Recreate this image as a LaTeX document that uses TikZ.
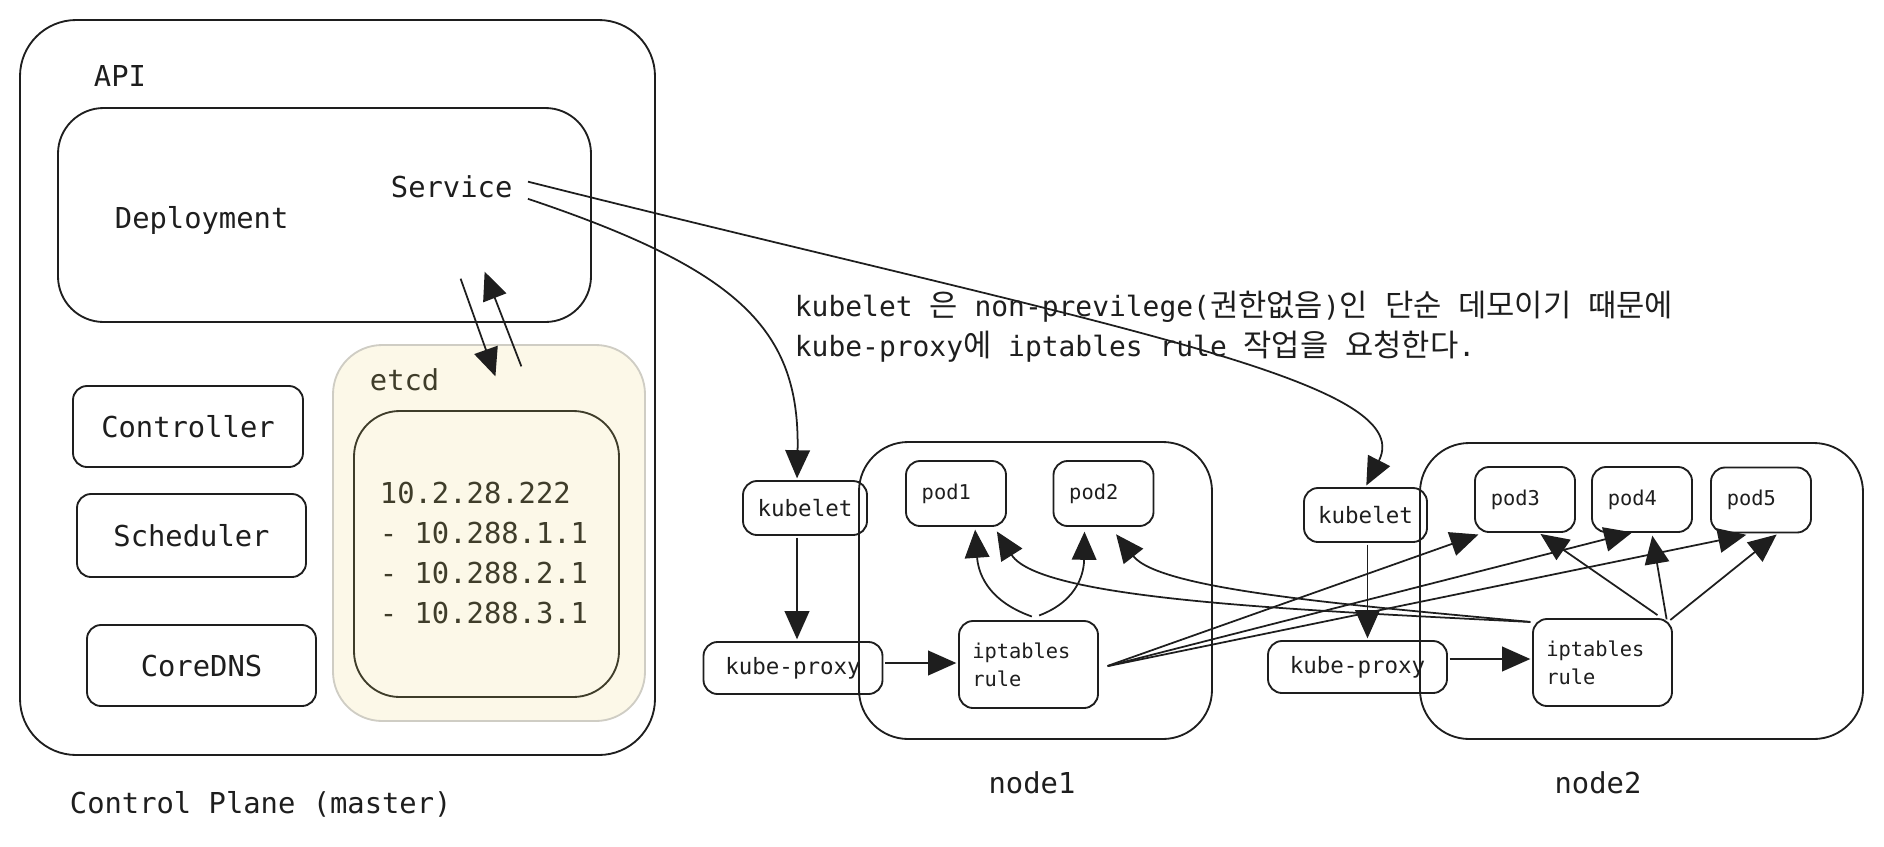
\documentclass[tikz,border=0pt]{standalone}
\usepackage{fontspec}
\setmonofont{DejaVu Sans Mono}
\newfontfamily\krfont[Scale=1.1]{Noto Sans CJK KR}
\newcommand{\ko}[1]{{\krfont #1}}
\usetikzlibrary{arrows.meta}
\definecolor{ink}{HTML}{1E1E1E}
\definecolor{etcdfill}{HTML}{FCF8E8}
\definecolor{etcdline}{HTML}{CFCDC4}
\definecolor{etcdtext}{HTML}{3F3D2A}
\tikzset{wh/.style 2 args={minimum width=#1*0.02cm, minimum height=#2*0.02cm}}

\begin{document}
\begin{tikzpicture}[x=0.02cm, y=-0.02cm, color=ink, line width=1.05pt,
  >={Triangle[length=16pt,width=14pt]},
  every node/.style={inner sep=0pt, font=\fontsize{16.4}{20}\ttfamily},
  box/.style={draw, rounded corners=8pt},
  small/.style={font=\fontsize{11.6}{16}\ttfamily},
  mid/.style={font=\fontsize{12.8}{15}\ttfamily},
  podbox/.style={box, small, wh={100}{65}, text width=39pt, align=left},
  iptbox/.style={box, small, wh={139}{87}, text width=64pt, align=left},
  link/.style={->, line width=1pt, shorten <=1pt, shorten >=1pt}
  ]
  \useasboundingbox (0,0) rectangle (1884,846);
  % control plane
  \node[box, rounded corners=32pt, wh={635}{735}] (cp) at (337.5,387.5) {};
  \node[anchor=base west] (apilbl) at (93,86) {API};
  \node[box, rounded corners=26pt, wh={533}{214}] (api) at (324.5,215) {};
  \node[anchor=base west] (deploy) at (114,228) {Deployment};
  \node[anchor=base west] (service) at (390,197) {Service};
  \node[draw=etcdline, fill=etcdfill, rounded corners=28pt, wh={312}{376}] (etcd) at (489,533) {};
  \node[anchor=base west, text=etcdtext] (etcdlbl) at (369,390) {etcd};
  \node[draw=etcdtext, rounded corners=26pt, wh={265}{286}] (etcddb) at (486.5,554) {};
  \node[anchor=west, align=left, text=etcdtext, font=\fontsize{16.4}{22.7}\ttfamily] (iplist) at (379,553)
    {10.2.28.222\\- 10.288.1.1\\- 10.288.2.1\\- 10.288.3.1};
  \node[box, wh={230}{81}] (ctrl) at (188,426.5) {Controller};
  \node[box, wh={229}{83}] (sched) at (191.5,535.5) {Scheduler};
  \node[box, wh={229}{81}] (dns) at (201.5,665.5) {CoreDNS\hspace{16pt}};
  \node[anchor=base west] (cplbl) at (69,813) {Control Plane (master)};
  \coordinate (api1) at (460,277);
  \coordinate (etcd1) at (496,378);
  \coordinate (etcd2) at (522,368);
  \coordinate (api2) at (484,270);
  \draw[link] (api1) -- (etcd1);
  \draw[link] (etcd2) -- (api2);
  % node1
  \node[box, rounded corners=28pt, wh={353}{297}] (node1) at (1035.5,590.5) {};
  \node[box, mid, wh={124}{54}] (kubelet1) at (805,508) {kubelet};
  \node[box, mid, wh={179}{52}] (proxy1) at (793,668) {kube-proxy};
  \node[podbox] (pod1) at (956,493.5) {pod1};
  \node[podbox] (pod2) at (1103.5,493.5) {pod2};
  \node[iptbox] (ipt1) at (1028.5,664.5) {iptables\\rule};
  \node[anchor=base] (node1lbl) at (1032,793) {node1};
  % node2
  \node[box, rounded corners=28pt, wh={443}{296}] (node2) at (1641.5,591) {};
  \node[box, mid, wh={123}{54}] (kubelet2) at (1365.5,515) {kubelet};
  \node[box, mid, wh={179}{52}] (proxy2) at (1357.5,667) {kube-proxy};
  \node[podbox] (pod3) at (1525,499.5) {pod3};
  \node[podbox] (pod4) at (1642,499.5) {pod4};
  \node[podbox] (pod5) at (1761,500) {pod5};
  \node[iptbox] (ipt2) at (1602.5,662.5) {iptables\\rule};
  \node[anchor=base] (node2lbl) at (1598,793) {node2};
  \node[anchor=west, align=left, font=\fontsize{15.9}{22.7}\ttfamily] (note) at (794,327)
    {kubelet \ko{은} non-previlege(\ko{권한없음})\ko{인} \ko{단순} \ko{데모이기} \ko{때문에}\\
     kube-proxy\ko{에} iptables rule \ko{작업을} \ko{요청한다}.};
  % connectors
  \draw[link] ([shift={(13,12)}]service.east) .. controls (740,270) and (800,330) .. ([shift={(-8,0)}]kubelet1.north);
  \draw[link] ([shift={(13,-5)}]service.east) .. controls (1100,325) and (1420,380) .. (kubelet2.north);
  \draw[link] ([shift={(-8,0)}]kubelet1.south) -- ([shift={(-8,0)}]kubelet1.south |- proxy1.north);
  \draw[link] ([shift={(2,0)}]kubelet2.south) -- ([shift={(2,0)}]kubelet2.south |- proxy2.north);
  \draw[link] ([shift={(0,-5)}]proxy1.east) -- ([shift={(0,-5)}]proxy1.east -| ipt1.west);
  \draw[link] ([shift={(0,-8)}]proxy2.east) -- ([shift={(0,-8)}]proxy2.east -| ipt2.west);
  \draw[link] ([shift={(5,-3)}]ipt1.north) .. controls (985,600) and (978,570) .. ([shift={(19,1)}]pod1.south);
  \draw[link] ([shift={(9,-4)}]ipt1.north) .. controls (1080,600) and (1084,570) .. ([shift={(-19,3)}]pod2.south);
  \draw[link] ([shift={(7,2)}]ipt1.east) -- ([shift={(6,1)}]pod3.south west);
  \draw[link] ([shift={(7,2)}]ipt1.east) -- ([shift={(-8,-1)}]pod4.south);
  \draw[link] ([shift={(7,2)}]ipt1.east) -- ([shift={(-13,1)}]pod5.south);
  \draw[link] ([shift={(0,4)}]ipt2.north west) .. controls (1300,610) and (1040,600) .. ([shift={(-11,3)}]pod1.south east);
  \draw[link] ([shift={(0,4)}]ipt2.north west) .. controls (1350,605) and (1160,590) .. ([shift={(11.5,6)}]pod2.south);
  \draw[link] ([shift={(-14,-2)}]ipt2.north east) -- ([shift={(14,0)}]pod3.south);
  \draw[link] ([shift={(-6,3)}]ipt2.north east) -- ([shift={(10,1)}]pod4.south);
  \draw[link] ([shift={(-4,3)}]ipt2.north east) -- ([shift={(17,0)}]pod5.south);
\end{tikzpicture}
\end{document}
